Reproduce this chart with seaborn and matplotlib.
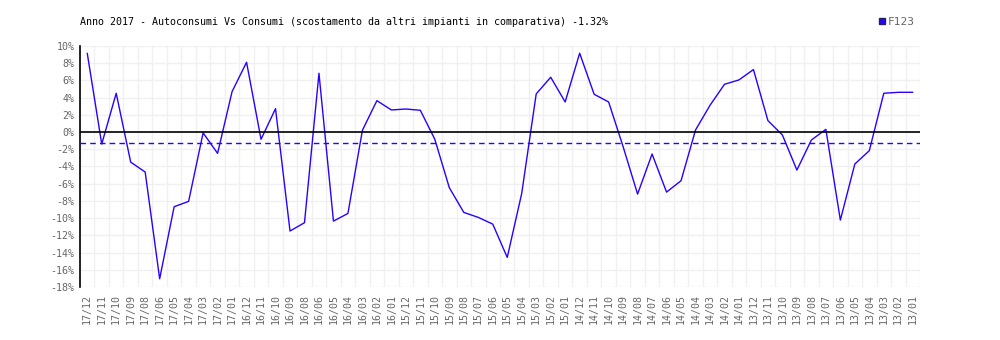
import numpy as np
import pandas as pd
import matplotlib
matplotlib.use('Agg')
import matplotlib.pyplot as plt
from matplotlib.lines import Line2D
import seaborn as sns

# ================== DATA ==================
mesi = ['17/12', '17/11', '17/10', '17/09', '17/08', '17/06', '17/05', '17/04', '17/03', '17/02', '17/01',
        '16/12', '16/11', '16/10', '16/09', '16/08', '16/06', '16/05', '16/04', '16/03', '16/02', '16/01',
        '15/12', '15/11', '15/10', '15/09', '15/08', '15/07', '15/06', '15/05', '15/04', '15/03', '15/02', '15/01',
        '14/12', '14/11', '14/10', '14/09', '14/08', '14/07', '14/06', '14/05', '14/04', '14/03', '14/02', '14/01',
        '13/12', '13/11', '13/10', '13/09', '13/08', '13/07', '13/06', '13/05', '13/04', '13/03', '13/02', '13/01']

scostamento = [9.15, -1.4, 4.5, -3.5, -4.65, -17.05, -8.68, -8.06, -0.1, -2.48, 4.69,
               8.1, -0.85, 2.71, -11.5, -10.54, 6.82, -10.35, -9.46, 0.2, 3.64, 2.56,
               2.67, 2.52, -0.85, -6.47, -9.34, -9.92, -10.7, -14.57, -7.13, 4.42, 6.36, 3.49,
               9.15, 4.38, 3.49, -1.7, -7.21, -2.56, -6.98, -5.66, 0.23, 3.1, 5.54, 6.05,
               7.25, 1.32, -0.35, -4.42, -0.93, 0.31, -10.23, -3.72, -2.17, 4.5, 4.61, 4.61]

media = -1.32
serie = 'F123'
titolo = 'Anno 2017 - Autoconsumi Vs Consumi (scostamento da altri impianti in comparativa) -1.32%'
y_ticks = list(range(-18, 11, 2))

BLU = '#2a00ff'
GRIGIO = '#666666'

df = pd.DataFrame({'mese': mesi, 'valore': scostamento})
df['pos'] = np.arange(len(df))

# ================== PLOT ==================
sns.set_style('white')
plt.rcParams['font.family'] = ['DejaVu Sans Mono']

fig = plt.figure(figsize=(10, 3.4), dpi=100)
ax = fig.add_axes([0.08, 0.156, 0.84, 0.709])

sns.lineplot(data=df, x='pos', y='valore', color=BLU, linewidth=1.0, sort=False, ax=ax)

ax.axhline(0, color='black', linewidth=1.2, zorder=3)
ax.axhline(media, color=BLU, linewidth=1.0, linestyle=(0, (4, 3)), zorder=3)

ax.set_xlim(-0.5, len(mesi) - 0.5)
ax.set_ylim(-18, 10)

ax.set_xticks(df['pos'])
ax.set_xticklabels(mesi, rotation=90, fontsize=7.2, color=GRIGIO)
ax.set_xticks(np.arange(-0.5, len(mesi), 1), minor=True)
ax.set_yticks(y_ticks)
ax.set_yticklabels([f'{v}%' for v in y_ticks], fontsize=7.2, color=GRIGIO)
ax.tick_params(axis='both', which='both', length=0)
ax.tick_params(axis='x', pad=5)
ax.tick_params(axis='y', pad=4)

ax.grid(which='minor', axis='x', color='#f0f0f0', linewidth=1)
ax.grid(which='major', axis='y', color='#f0f0f0', linewidth=1)
ax.set_axisbelow(True)

for s in ['top', 'right', 'bottom']:
    ax.spines[s].set_visible(False)
ax.spines['left'].set_color('black')
ax.spines['left'].set_linewidth(1.2)

ax.set_xlabel('')
ax.set_ylabel('')

fig.text(0.08, 0.935, titolo, fontsize=7.2, color='black', ha='left', va='center')

handle = Line2D([], [], marker='s', linestyle='none', markersize=5,
                markerfacecolor=BLU, markeredgecolor='#222266', label=serie)
fig.legend(handles=[handle], loc='center left', bbox_to_anchor=(0.872, 0.935),
           frameon=False, fontsize=8, handletextpad=0.1, handlelength=0.8,
           labelcolor=GRIGIO, borderpad=0)

plt.savefig('out.png', dpi=100)
plt.close()
